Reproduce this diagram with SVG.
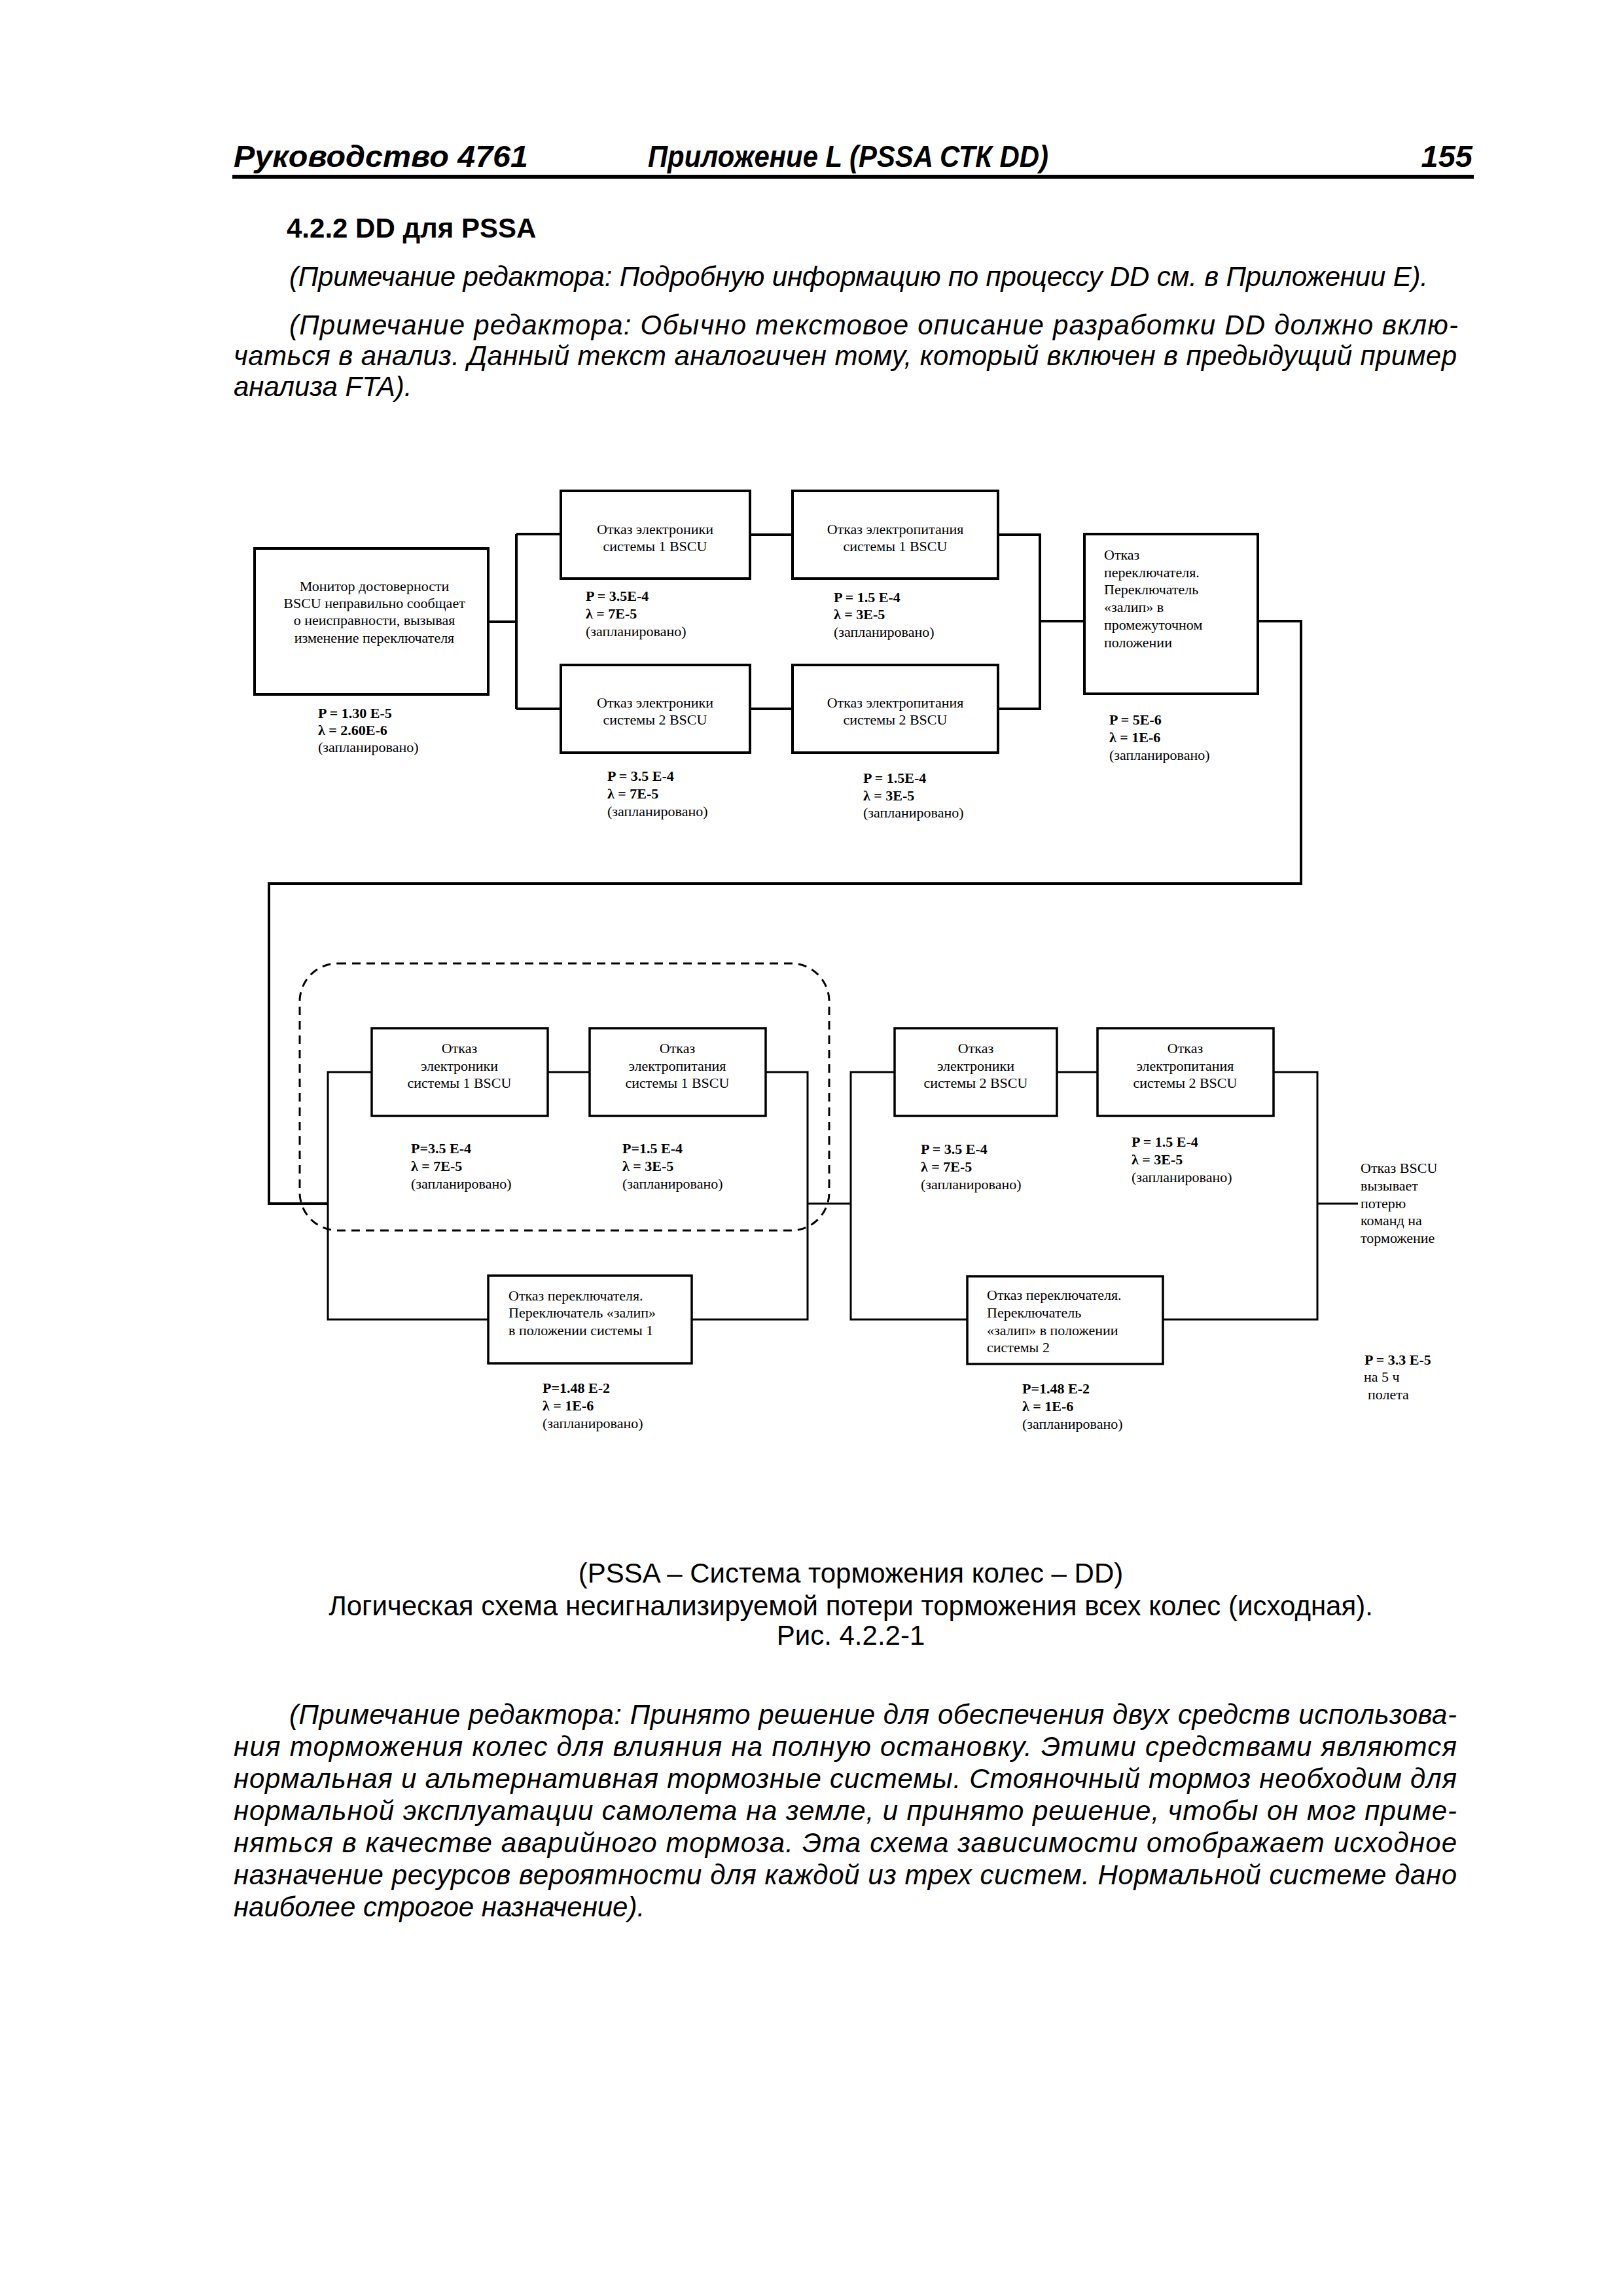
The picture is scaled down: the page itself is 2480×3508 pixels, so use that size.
<svg xmlns="http://www.w3.org/2000/svg" width="2480" height="3508" viewBox="0 0 2480 3508">
<style>
.hdr{font-family:"Liberation Sans",Arial,sans-serif;font-weight:bold;font-style:italic;font-size:47px;fill:#000}
.h2{font-family:"Liberation Sans",Arial,sans-serif;font-weight:bold;font-size:42px;fill:#000}
.it{font-family:"Liberation Sans",Arial,sans-serif;font-style:italic;font-size:42px;fill:#000}
.cap{font-family:"Liberation Sans",Arial,sans-serif;font-size:42px;fill:#000;text-anchor:middle}
.bx{fill:#fff;stroke:#000;stroke-width:4}
.bx2{fill:#fff;stroke:#000;stroke-width:3.5}
.t{font-family:"Liberation Serif","Times New Roman",serif;font-size:22px;fill:#000}
.tc{font-family:"Liberation Serif","Times New Roman",serif;font-size:22px;fill:#000;text-anchor:middle}
.tb{font-family:"Liberation Serif","Times New Roman",serif;font-size:22px;font-weight:bold;fill:#000}
.w1{fill:none;stroke:#000;stroke-width:4}
.w2{fill:none;stroke:#000;stroke-width:3}
.dash{fill:none;stroke:#000;stroke-width:3;stroke-dasharray:13 9}
</style>
<rect x="0" y="0" width="2480" height="3508" fill="#fff"/>

<g id="header">
<text class="hdr" x="357" y="255" textLength="450" lengthAdjust="spacingAndGlyphs">Руководство 4761</text>
<text class="hdr" x="990" y="255" textLength="612" lengthAdjust="spacingAndGlyphs">Приложение L (PSSA СТК DD)</text>
<text class="hdr" x="2250" y="255" text-anchor="end">155</text>
<rect x="355" y="267" width="1897" height="6" fill="#000"/>
</g>

<g id="intro">
<text class="h2" x="438" y="363">4.2.2  DD для PSSA</text>
<text class="it" x="442" y="437" textLength="1740" lengthAdjust="spacing">(Примечание редактора: Подробную информацию по процессу DD см. в Приложении Е).</text>
<text class="it" x="442" y="511" textLength="1786" lengthAdjust="spacing">(Примечание редактора: Обычно текстовое описание разработки DD должно вклю-</text>
<text class="it" x="357" y="558" textLength="1869" lengthAdjust="spacing">чаться в анализ. Данный текст аналогичен тому, который включен в предыдущий пример</text>
<text class="it" x="357" y="605">анализа FTA).</text>
</g>

<g id="connectors">
<path class="w1" d="M746,950 H789 M789,816 V1083 M789,816 H857 M789,1083 H857 M1146,817 H1211 M1146,1083 H1211 M1525,817 H1589 V1083 H1525 M1589,949 H1657"/>
<path class="w1" d="M1922,949 H1988 V1350 H411 V1839 H501"/>
<path class="w2" d="M568,1638 H501 V2016 H746 M837,1638 H901 M1170,1638 H1234 V2016 H1057 M1234,1839 H1300"/>
<path class="w2" d="M1367,1638 H1300 V2016 H1478 M1615,1638 H1677 M1946,1638 H2013 V2016 H1777 M2013,1839 H2075"/>
</g>

<g id="group-system1">
<rect class="dash" x="458" y="1472" width="809" height="408" rx="58" ry="58"/>
</g>

<g id="n-monitor">
<rect class="bx" x="389" y="838" width="357" height="223"/>
<text class="tc" x="572" y="903">Монитор достоверности</text>
<text class="tc" x="572" y="929">BSCU неправильно сообщает</text>
<text class="tc" x="572" y="955">о неисправности, вызывая</text>
<text class="tc" x="572" y="982">изменение переключателя</text>
<text class="tb" x="486" y="1097">P = 1.30 E-5</text>
<text class="tb" x="486" y="1123">λ = 2.60E-6</text>
<text class="t" x="486" y="1149">(запланировано)</text>
</g>

<g id="n-el1">
<rect class="bx" x="857" y="750" width="289" height="134"/>
<text class="tc" x="1001" y="816">Отказ электроники</text>
<text class="tc" x="1001" y="842">системы 1 BSCU</text>
<text class="tb" x="895" y="918">P = 3.5E-4</text>
<text class="tb" x="895" y="945">λ = 7E-5</text>
<text class="t" x="895" y="972">(запланировано)</text>
</g>

<g id="n-pw1">
<rect class="bx" x="1211" y="750" width="314" height="134"/>
<text class="tc" x="1368" y="816">Отказ электропитания</text>
<text class="tc" x="1368" y="842">системы 1 BSCU</text>
<text class="tb" x="1274" y="920">P = 1.5 E-4</text>
<text class="tb" x="1274" y="946">λ = 3E-5</text>
<text class="t" x="1274" y="973">(запланировано)</text>
</g>

<g id="n-el2">
<rect class="bx" x="857" y="1016" width="289" height="134"/>
<text class="tc" x="1001" y="1081">Отказ электроники</text>
<text class="tc" x="1001" y="1107">системы 2 BSCU</text>
<text class="tb" x="928" y="1193">P = 3.5 E-4</text>
<text class="tb" x="928" y="1220">λ = 7E-5</text>
<text class="t" x="928" y="1247">(запланировано)</text>
</g>

<g id="n-pw2">
<rect class="bx" x="1211" y="1016" width="314" height="134"/>
<text class="tc" x="1368" y="1081">Отказ электропитания</text>
<text class="tc" x="1368" y="1107">системы 2 BSCU</text>
<text class="tb" x="1319" y="1196">P = 1.5E-4</text>
<text class="tb" x="1319" y="1223">λ = 3E-5</text>
<text class="t" x="1319" y="1249">(запланировано)</text>
</g>

<g id="n-switch-mid">
<rect class="bx" x="1657" y="816" width="265" height="244"/>
<text class="t" x="1687" y="855">Отказ</text>
<text class="t" x="1687" y="882">переключателя.</text>
<text class="t" x="1687" y="908">Переключатель</text>
<text class="t" x="1687" y="935">«залип» в</text>
<text class="t" x="1687" y="962">промежуточном</text>
<text class="t" x="1687" y="989">положении</text>
<text class="tb" x="1695" y="1107">P = 5E-6</text>
<text class="tb" x="1695" y="1134">λ = 1E-6</text>
<text class="t" x="1695" y="1161">(запланировано)</text>
</g>

<g id="n-l-el1">
<rect class="bx2" x="568" y="1571" width="269" height="134"/>
<text class="tc" x="702" y="1609">Отказ</text>
<text class="tc" x="702" y="1636">электроники</text>
<text class="tc" x="702" y="1662">системы 1 BSCU</text>
<text class="tb" x="628" y="1762">P=3.5 E-4</text>
<text class="tb" x="628" y="1789">λ = 7E-5</text>
<text class="t" x="628" y="1816">(запланировано)</text>
</g>

<g id="n-l-pw1">
<rect class="bx2" x="901" y="1571" width="269" height="134"/>
<text class="tc" x="1035" y="1609">Отказ</text>
<text class="tc" x="1035" y="1636">электропитания</text>
<text class="tc" x="1035" y="1662">системы 1 BSCU</text>
<text class="tb" x="951" y="1762">P=1.5 E-4</text>
<text class="tb" x="951" y="1789">λ = 3E-5</text>
<text class="t" x="951" y="1816">(запланировано)</text>
</g>

<g id="n-l-el2">
<rect class="bx2" x="1367" y="1571" width="248" height="134"/>
<text class="tc" x="1491" y="1609">Отказ</text>
<text class="tc" x="1491" y="1636">электроники</text>
<text class="tc" x="1491" y="1662">системы 2 BSCU</text>
<text class="tb" x="1407" y="1763">P = 3.5 E-4</text>
<text class="tb" x="1407" y="1790">λ = 7E-5</text>
<text class="t" x="1407" y="1817">(запланировано)</text>
</g>

<g id="n-l-pw2">
<rect class="bx2" x="1677" y="1571" width="269" height="134"/>
<text class="tc" x="1811" y="1609">Отказ</text>
<text class="tc" x="1811" y="1636">электропитания</text>
<text class="tc" x="1811" y="1662">системы 2 BSCU</text>
<text class="tb" x="1729" y="1752">P = 1.5 E-4</text>
<text class="tb" x="1729" y="1779">λ = 3E-5</text>
<text class="t" x="1729" y="1806">(запланировано)</text>
</g>

<g id="n-switch-1">
<rect class="bx2" x="746" y="1949" width="311" height="134"/>
<text class="t" x="777" y="1987">Отказ переключателя.</text>
<text class="t" x="777" y="2013">Переключатель «залип»</text>
<text class="t" x="777" y="2040">в положении системы 1</text>
<text class="tb" x="829" y="2128">P=1.48 E-2</text>
<text class="tb" x="829" y="2155">λ = 1E-6</text>
<text class="t" x="829" y="2182">(запланировано)</text>
</g>

<g id="n-switch-2">
<rect class="bx2" x="1478" y="1950" width="299" height="134"/>
<text class="t" x="1508" y="1986">Отказ переключателя.</text>
<text class="t" x="1508" y="2013">Переключатель</text>
<text class="t" x="1508" y="2040">«залип» в положении</text>
<text class="t" x="1508" y="2066">системы 2</text>
<text class="tb" x="1562" y="2129">P=1.48 E-2</text>
<text class="tb" x="1562" y="2156">λ = 1E-6</text>
<text class="t" x="1562" y="2183">(запланировано)</text>
</g>

<g id="n-top-event">
<text class="t" x="2079" y="1792">Отказ BSCU</text>
<text class="t" x="2079" y="1819">вызывает</text>
<text class="t" x="2079" y="1846">потерю</text>
<text class="t" x="2079" y="1872">команд на</text>
<text class="t" x="2079" y="1899">торможение</text>
<text class="tb" x="2085" y="2085">P = 3.3 E-5</text>
<text class="t" x="2084" y="2111">на 5 ч</text>
<text class="t" x="2090" y="2138">полета</text>
</g>

<g id="caption">
<text class="cap" x="1300" y="2418">(PSSA – Система торможения колес – DD)</text>
<text class="cap" x="1300" y="2468">Логическая схема несигнализируемой потери торможения всех колес (исходная).</text>
<text class="cap" x="1300" y="2513">Рис. 4.2.2-1</text>
</g>

<g id="note">
<text class="it" x="442" y="2634" textLength="1784" lengthAdjust="spacing">(Примечание редактора: Принято решение для обеспечения двух средств использова-</text>
<text class="it" x="357" y="2683" textLength="1869" lengthAdjust="spacing">ния торможения колес для влияния на полную остановку. Этими средствами являются</text>
<text class="it" x="357" y="2732" textLength="1869" lengthAdjust="spacing">нормальная и альтернативная тормозные системы. Стояночный тормоз необходим для</text>
<text class="it" x="357" y="2781" textLength="1869" lengthAdjust="spacing">нормальной эксплуатации самолета на земле, и принято решение, чтобы он мог приме-</text>
<text class="it" x="357" y="2830" textLength="1869" lengthAdjust="spacing">няться в качестве аварийного тормоза. Эта схема зависимости отображает исходное</text>
<text class="it" x="357" y="2879" textLength="1869" lengthAdjust="spacing">назначение ресурсов вероятности для каждой из трех систем. Нормальной системе дано</text>
<text class="it" x="357" y="2928">наиболее строгое назначение).</text>
</g>
</svg>
